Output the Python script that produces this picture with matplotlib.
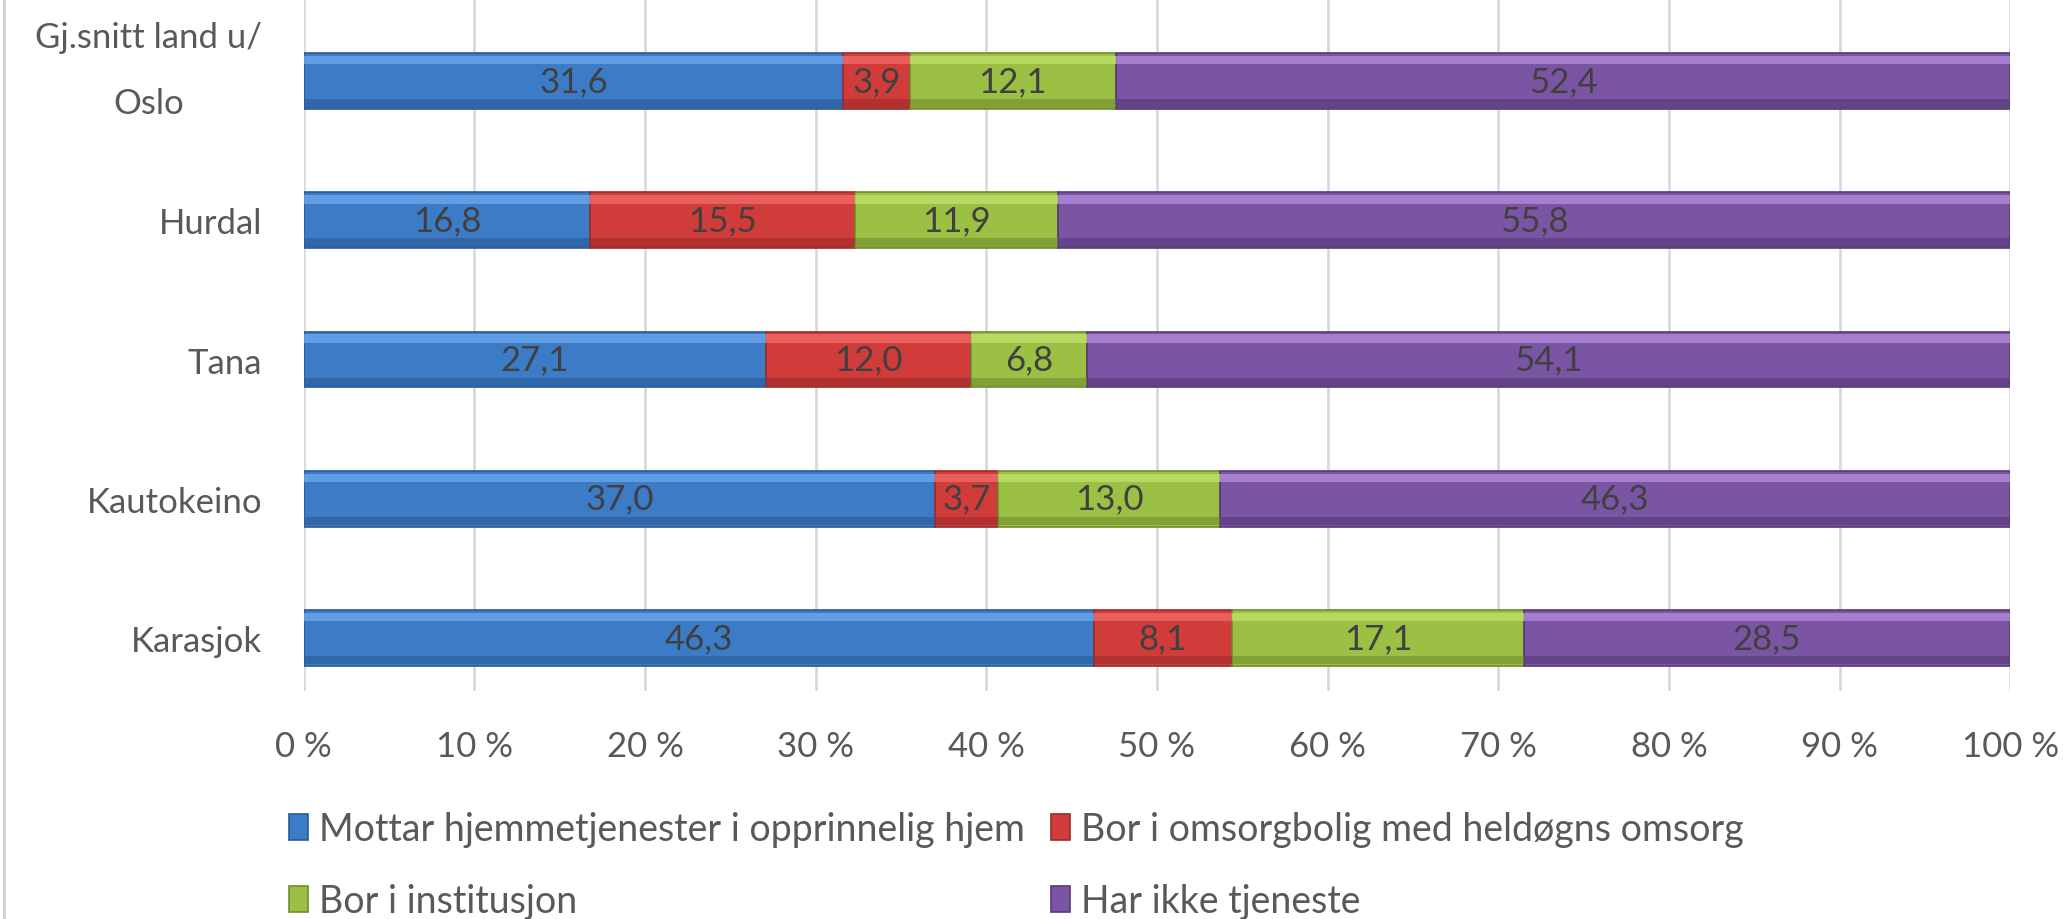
import matplotlib.pyplot as plt
from matplotlib.lines import Line2D
import numpy as np

plt.rcParams['font.family'] = ['Lato', 'DejaVu Sans']

# Categories from bottom to top
kommuner = ["Karasjok", "Kautokeino", "Tana", "Hurdal", "Gj.snitt land u/\nOslo"]
hjemmetjenester = [46.3, 37.0, 27.1, 16.8, 31.6]
omsorgbolig = [8.1, 3.7, 12.0, 15.5, 3.9]
institusjon = [17.1, 13.0, 6.8, 11.9, 12.1]
ingen_tjeneste = [28.5, 46.3, 54.1, 55.8, 52.4]

serier = ["Mottar hjemmetjenester i opprinnelig hjem",
          "Bor i omsorgbolig med heldøgns omsorg",
          "Bor i institusjon",
          "Har ikke tjeneste"]
farger = ["#3c7bc6", "#d03c3a", "#9cc044", "#7a55a3"]
lyse = ["#6aa6ec", "#ee6a66", "#bde06a", "#b08ad8"]
kanter = ["#2a5a94", "#9c2a28", "#6f8c2c", "#563a78"]

fig = plt.figure(figsize=(20.66, 9.2), dpi=100)
ax = fig.add_axes([0.147, 0.248, 0.826, 0.752])

y = np.arange(len(kommuner))
h = 0.4
left = np.zeros(len(kommuner))
handles = []
for verdier, navn, farge, lys, kant in zip(
        [hjemmetjenester, omsorgbolig, institusjon, ingen_tjeneste], serier, farger, lyse, kanter):
    verdier = np.array(verdier)
    bars = ax.barh(y, verdier, left=left, height=h, color=farge,
                   edgecolor=kant, linewidth=1.2, label=navn, zorder=3)
    # bevel look: light strip on top, dark strip at bottom
    ax.barh(y + h / 2 - 0.05, verdier, left=left, height=0.06, color=lys,
            linewidth=0, alpha=0.8, zorder=3.5)
    ax.barh(y - h / 2 + 0.04, verdier, left=left, height=0.06, color=kant,
            linewidth=0, alpha=0.6, zorder=3.5)
    for xi, yi, v in zip(left, y, verdier):
        ax.text(xi + v / 2, yi, f"{v:.1f}".replace(".", ","), ha="center", va="center",
                fontsize=25, color="#404040", zorder=4)
    handles.append(bars)
    left = left + verdier

ax.set_xlim(0, 100)
ax.set_ylim(-0.38, 4.59)
ax.set_xticks(np.arange(0, 101, 10))
ax.set_xticklabels([f"{t} %" for t in range(0, 101, 10)])
ax.set_yticks(y)
# the two-line label is drawn separately so its line gap can match the original
ax.set_yticklabels(kommuner[:-1] + [""])
ax.annotate(kommuner[-1], xy=(0, y[-1]), xytext=(-30, 8), textcoords="offset points",
            ha="right", va="center", multialignment="center", linespacing=2.3,
            fontsize=25, color="#595959", annotation_clip=False)
ax.tick_params(axis="both", length=0, labelsize=25, colors="#595959")
ax.tick_params(axis="x", pad=28)
ax.tick_params(axis="y", pad=30)
ax.grid(axis="x", color="#d9d9d9", linewidth=2, zorder=0)
for s in ax.spines.values():
    s.set_visible(False)

order = [0, 2, 1, 3]
fig.legend([handles[i] for i in order], [serier[i] for i in order], ncol=2,
           loc="lower left", bbox_to_anchor=(0.14, 0.0), frameon=False,
           borderpad=0, borderaxespad=0,
           fontsize=27, labelcolor="#595959", handlelength=0.5, handleheight=0.7,
           handletextpad=0.3, columnspacing=0.7, labelspacing=0.95)

fig.add_artist(Line2D([0.002, 0.002], [0, 1], color="#d0d0d0", linewidth=2,
                      transform=fig.transFigure))

fig.savefig("out.png", dpi=100)
